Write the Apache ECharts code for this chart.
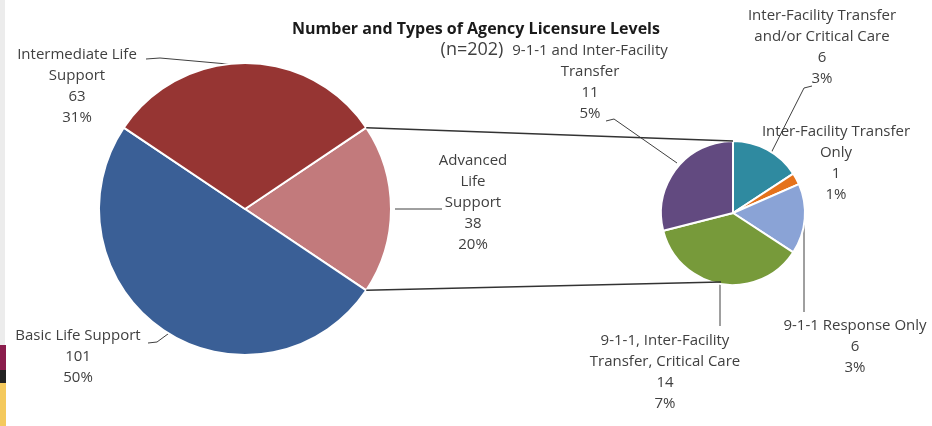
<!DOCTYPE html>
<html>
<head>
<meta charset="utf-8">
<script src="https://cdn.jsdelivr.net/npm/echarts@6/dist/echarts.min.js"></script>
<style>
  html, body { margin: 0; padding: 0; background: #fff; }
  #pie { width: 932px; height: 426px; }
</style>
</head>
<body>
<div id="pie"></div>
<script>
// main pie
var mainNames = ['Advanced\nLife\nSupport', 'Basic Life Support', 'Intermediate Life\nSupport'];
var mainValues = [38, 101, 63];
var mainPct = ['20%', '50%', '31%'];
var mainColors = ['#c27a7c', '#3a5f96', '#963533'];

// breakdown of Advanced Life Support
var subNames = ['Inter-Facility Transfer\nand/or Critical Care', 'Inter-Facility Transfer\nOnly', '9-1-1 Response Only',
    '9-1-1, Inter-Facility\nTransfer, Critical Care', '9-1-1 and Inter-Facility\nTransfer'];
var subValues = [6, 1, 6, 14, 11];
var subPct = ['3%', '1%', '3%', '7%', '5%'];
var subColors = ['#2f8aa0', '#e5721c', '#8aa3d6', '#779a3a', '#624a80'];

// layout
var mainCenter = [245, 209], mainR = 146;
var subCenter = [733, 213], subR = 72;
var mainLabelPos = [[473, 150], [78, 325], [77, 44]];
var mainGuides = [
    [[395, 209], [442, 209]],
    [[148, 343], [157, 342], [172, 331]],
    [[146, 59], [160, 58], [250, 66]]
];
var subLabelPos = [[822, 5], [836, 121], [855, 315], [665, 330], [590, 40]];
var subGuides = [
    [[812, 86], [804, 88], [766, 163]],
    null,
    [[804, 214], [804, 312]],
    [[720, 283], [720, 326]],
    [[606, 121], [614, 119], [677, 163]]
];

var font = 'Open Sans';
var textColor = '#404040';

window.onload = function() {
    initPie()
}

function sum(arr) {
    var s = 0;
    for (var i = 0; i < arr.length; i++) s += arr[i];
    return s;
}

function buildData(names, values, pct, colors, guides) {
    return names.map(function(n, i) {
        return {
            name: n,
            value: values[i],
            pct: pct[i],
            itemStyle: { color: colors[i] },
            labelLine: { show: guides[i] != null }
        };
    });
}

//饼图 + 子饼图
function initPie() {
    var chart = echarts.init(document.getElementById('pie'), null, { renderer: 'canvas' });
    var total = sum(mainValues);
    // 其他那一块居中在右侧
    var startAngle = mainValues[0] / total * 360 / 2;
    var rad = startAngle * Math.PI / 180;
    var topPt = [mainCenter[0] + mainR * Math.cos(rad), mainCenter[1] - mainR * Math.sin(rad)];
    var botPt = [mainCenter[0] + mainR * Math.cos(rad), mainCenter[1] + mainR * Math.sin(rad)];

    var labelStyle = {
        show: true,
        position: 'outside',
        overflow: 'none',
        fontFamily: font,
        fontSize: 15,
        lineHeight: 21,
        color: textColor,
        align: 'center',
        formatter: function(p) {
            return p.name + '\n' + p.value + '\n' + p.data.pct;
        }
    };

    var option = {
        backgroundColor: '#fff',
        animation: false,
        title: [{
            text: 'Number and Types of Agency Licensure Levels',
            left: 471,
            top: 16,
            textAlign: 'center',
            textStyle: { fontFamily: font, fontSize: 16, fontWeight: 'bold', color: '#1a1a1a' }
        }, {
            text: '(n=' + total + ')',
            left: 467,
            top: 36,
            textAlign: 'center',
            textStyle: { fontFamily: font, fontSize: 18, fontWeight: 'normal', color: textColor }
        }],
        graphic: [
            // 左侧边条
            { type: 'rect', shape: { x: 0, y: 0, width: 5, height: 345 }, style: { fill: '#ececec' } },
            { type: 'rect', shape: { x: 0, y: 345, width: 6, height: 25 }, style: { fill: '#8a1d4c' } },
            { type: 'rect', shape: { x: 0, y: 370, width: 6, height: 13 }, style: { fill: '#222' } },
            { type: 'rect', shape: { x: 0, y: 383, width: 6, height: 43 }, style: { fill: '#f4c95d' } },
            // 连接线
            {
                type: 'polyline', z: 10,
                shape: { points: [topPt, [subCenter[0], subCenter[1] - subR]] },
                style: { stroke: '#333', lineWidth: 1.5, fill: null }
            },
            {
                type: 'polyline', z: 10,
                shape: { points: [botPt, [subCenter[0] - 12, subCenter[1] + subR - 3]] },
                style: { stroke: '#333', lineWidth: 1.5, fill: null }
            }
        ],
        series: [{
            name: 'main',
            type: 'pie',
            center: mainCenter,
            radius: [0, mainR],
            startAngle: startAngle,
            clockwise: true,
            itemStyle: { borderColor: '#fff', borderWidth: 2 },
            label: labelStyle,
            labelLine: { show: true, lineStyle: { color: textColor, width: 1 } },
            labelLayout: function(p) {
                return {
                    x: mainLabelPos[p.dataIndex][0],
                    y: mainLabelPos[p.dataIndex][1],
                    align: 'center',
                    verticalAlign: 'top',
                    labelLinePoints: mainGuides[p.dataIndex]
                };
            },
            data: buildData(mainNames, mainValues, mainPct, mainColors, mainGuides)
        }, {
            name: 'sub',
            type: 'pie',
            center: subCenter,
            radius: [0, subR],
            startAngle: 90,
            clockwise: true,
            itemStyle: { borderColor: '#fff', borderWidth: 2 },
            label: labelStyle,
            labelLine: { show: true, lineStyle: { color: textColor, width: 1 } },
            labelLayout: function(p) {
                var o = {
                    x: subLabelPos[p.dataIndex][0],
                    y: subLabelPos[p.dataIndex][1],
                    align: 'center',
                    verticalAlign: 'top'
                };
                if (subGuides[p.dataIndex]) o.labelLinePoints = subGuides[p.dataIndex];
                return o;
            },
            data: buildData(subNames, subValues, subPct, subColors, subGuides)
        }]
    };
    chart.setOption(option);
}
</script>
</body>
</html>
